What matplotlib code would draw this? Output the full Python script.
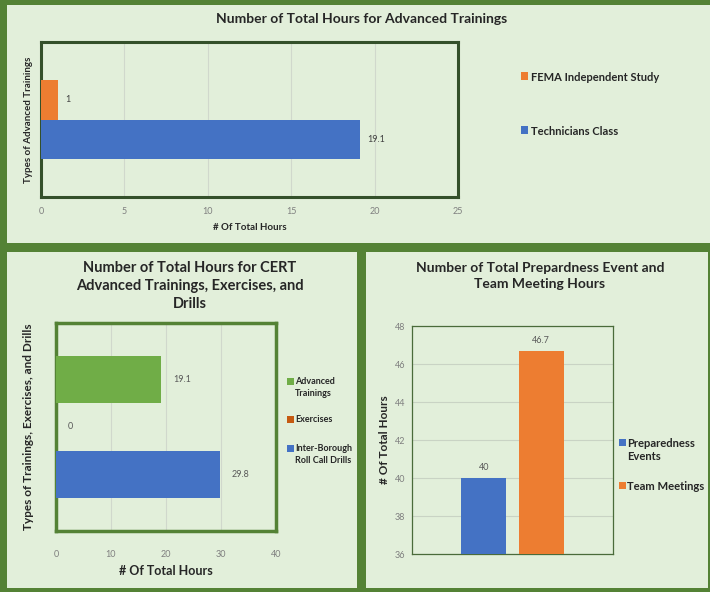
import matplotlib.pyplot as plt
from matplotlib.patches import Rectangle

W, H = 710, 592

# ---- data ----
adv_series = ["FEMA Independent Study", "Technicians Class"]
adv_hours = [1, 19.1]
adv_colors = ["#ED7D31", "#4472C4"]

cert_series = ["Advanced\nTrainings", "Exercises", "Inter-Borough\nRoll Call Drills"]
cert_hours = [19.1, 0, 29.8]
cert_colors = ["#70AD47", "#C55A11", "#4472C4"]

meet_series = ["Preparedness\nEvents", "Team Meetings"]
meet_hours = [40, 46.7]
meet_colors = ["#4472C4", "#ED7D31"]

plt.rcParams["font.family"] = ["Lato", "DejaVu Sans"]

PANEL = "#E2EFDA"
BORDER = "#548235"
FRAME = "#34502A"
TICK = "#7F7F7F"
DARK = "#262626"


def px_rect(x0, y0, x1, y1):
    # pixel box (top-left origin) -> figure fraction [l, b, w, h]
    return [x0 / W, 1 - y1 / H, (x1 - x0) / W, (y1 - y0) / H]


def add_panel(fig, x0, y0, x1, y1):
    l, b, w, h = px_rect(x0, y0, x1, y1)
    fig.add_artist(Rectangle((l, b), w, h, transform=fig.transFigure,
                             facecolor=PANEL, edgecolor="none", zorder=0))


def ftext(fig, x, y, s, **kw):
    fig.text(x / W, 1 - y / H, s, **kw)


def legend_items(fig, x, ys, labels, colors, size, gap=9):
    for y, lab, c in zip(ys, labels, colors):
        l, b, w, h = px_rect(x, y - 3.5, x + 7, y + 3.5)
        fig.add_artist(Rectangle((l, b), w, h, transform=fig.transFigure,
                                 facecolor=c, edgecolor="none"))
        ftext(fig, x + gap, y - size * 0.55, lab, fontsize=size, fontweight="bold",
              color=DARK, va="top", ha="left", linespacing=1.3)


fig = plt.figure(figsize=(W / 100, H / 100), dpi=100, facecolor=BORDER)

add_panel(fig, 7, 5, 710, 243)
add_panel(fig, 7, 252, 357, 588)
add_panel(fig, 366, 252, 708, 588)

# ---- top: advanced trainings ----
ax1 = fig.add_axes(px_rect(41, 42, 458, 197))
ax1.set_facecolor(PANEL)
bh = 0.258
ypos1 = [bh / 2, -bh / 2]
ax1.barh(ypos1, adv_hours, height=bh, color=adv_colors, zorder=3)
for yy, v in zip(ypos1, adv_hours):
    ax1.text(v + 0.45, yy, f"{v:g}", va="center", ha="left", fontsize=6.5, color="#404040")
ax1.set_xlim(0, 25)
ax1.set_ylim(-0.5, 0.5)
ax1.set_xticks(range(0, 26, 5))
ax1.set_yticks([])
ax1.tick_params(axis="x", length=0, labelsize=6.5, labelcolor=TICK, pad=7)
ax1.grid(axis="x", color="#D0D8CC", linewidth=0.8, zorder=0)
for sp in ax1.spines.values():
    sp.set_color(FRAME)
    sp.set_linewidth(2.2)
ax1.set_xlabel("# Of Total Hours", fontsize=7, fontweight="bold", color=DARK, labelpad=5)
ax1.set_ylabel("Types of Advanced Trainings", fontsize=7, fontweight="bold", color=DARK, labelpad=6)
ftext(fig, 362, 19, "Number of Total Hours for Advanced Trainings", ha="center", va="center",
      fontsize=10, fontweight="bold", color=DARK)
legend_items(fig, 521, [76, 130], adv_series, adv_colors, 8, gap=10)

# ---- bottom left: CERT trainings, exercises, drills ----
ax2 = fig.add_axes(px_rect(56, 323, 276, 531))
ax2.set_facecolor(PANEL)
bh2 = 0.226
ypos2 = [bh2, 0, -bh2]
ax2.barh(ypos2, cert_hours, height=bh2, color=cert_colors, zorder=3)
for yy, v in zip(ypos2, cert_hours):
    ax2.text(v + 2.2, yy, f"{v:g}", va="center", ha="left", fontsize=6.5, color="#595959")
ax2.set_xlim(0, 40)
ax2.set_ylim(-0.5, 0.5)
ax2.set_xticks(range(0, 41, 10))
ax2.set_yticks([])
ax2.tick_params(axis="x", length=0, labelsize=6.5, labelcolor=TICK, pad=14)
ax2.grid(axis="x", color="#D0D8CC", linewidth=0.8, zorder=0)
for sp in ax2.spines.values():
    sp.set_color(BORDER)
    sp.set_linewidth(2.5)
ax2.set_xlabel("# Of Total Hours", fontsize=9, fontweight="bold", color=DARK, labelpad=4)
ax2.set_ylabel("Types of Trainings, Exercises, and Drills", fontsize=8.5, fontweight="bold",
               color=DARK, labelpad=16)
ftext(fig, 190, 286, "Number of Total Hours for CERT\nAdvanced Trainings, Exercises, and\nDrills",
      ha="center", va="center", fontsize=10.5, fontweight="bold", color=DARK, linespacing=1.4)
legend_items(fig, 287, [381, 419, 448], cert_series, cert_colors, 6.5, gap=8)

# ---- bottom right: preparedness events and team meetings ----
ax3 = fig.add_axes(px_rect(412, 326, 613, 554))
ax3.set_facecolor(PANEL)
bw = 0.224
xpos3 = [-0.142, 0.142]
ax3.bar(xpos3, meet_hours, width=bw, color=meet_colors, zorder=3)
for xx, v in zip(xpos3, meet_hours):
    ax3.text(xx, v + 0.3, f"{v:g}", va="bottom", ha="center", fontsize=6.5, color="#595959")
ax3.set_xlim(-0.5, 0.5)
ax3.set_ylim(36, 48)
ax3.set_yticks(range(36, 49, 2))
ax3.set_xticks([])
ax3.tick_params(axis="y", length=0, labelsize=6.5, labelcolor=TICK, pad=5)
ax3.grid(axis="y", color="#C9D3C4", linewidth=0.8, zorder=0)
for sp in ax3.spines.values():
    sp.set_color("#4A6B3A")
    sp.set_linewidth(0.9)
ax3.set_ylabel("# Of Total Hours", fontsize=8.5, fontweight="bold", color=DARK, labelpad=3)
ftext(fig, 540, 276, "Number of Total Prepardness Event and\nTeam Meeting Hours",
      ha="center", va="center", fontsize=10, fontweight="bold", color=DARK, linespacing=1.35)
legend_items(fig, 619, [442, 485], meet_series, meet_colors, 8.1, gap=8)

fig.savefig("out.png", dpi=100, facecolor=BORDER)
